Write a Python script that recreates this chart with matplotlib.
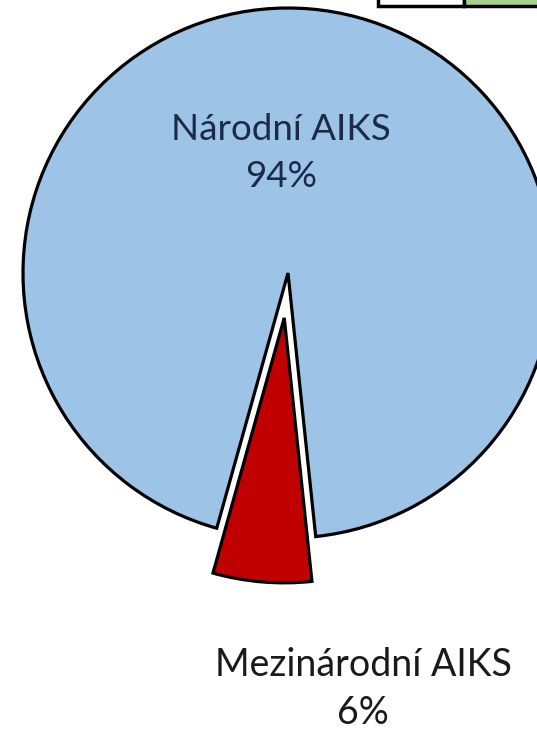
import matplotlib.pyplot as plt
from matplotlib.patches import Rectangle

categories = ['Mezinárodní AIKS', 'Národní AIKS']
shares = [6, 94]
colors = ['#C00000', '#9DC3E6']
explode = [45, 0]

plt.rcParams['font.family'] = ['Lato', 'DejaVu Sans']

fig = plt.figure(figsize=(5.37, 7.33), dpi=100)
ax = fig.add_axes([0, 0, 1, 1])

ax.pie(shares, colors=colors, explode=explode, startangle=254.4,
       center=(288, 460), radius=265, frame=True,
       wedgeprops=dict(edgecolor='black', linewidth=2.3))
ax.set_xlim(0, 537)
ax.set_ylim(0, 733)
ax.set_aspect('equal')
ax.axis('off')

# labels
ax.text(281, 580, f'{categories[1]}\n{shares[1]}%', ha='center', va='center',
        fontsize=26.5, color='#1B2A47', linespacing=1.5)
ax.text(363, 44, f'{categories[0]}\n{shares[0]}%', ha='center', va='center',
        fontsize=27, color='#1a1a1a', linespacing=1.4)

# partial table visible at the top edge
ax.add_patch(Rectangle((378, 727), 86, 10, facecolor='white', edgecolor='black', lw=2.5))
ax.add_patch(Rectangle((464, 727), 80, 10, facecolor='#A9D18E', edgecolor='black', lw=2.5))

fig.savefig('out.png', dpi=100)
